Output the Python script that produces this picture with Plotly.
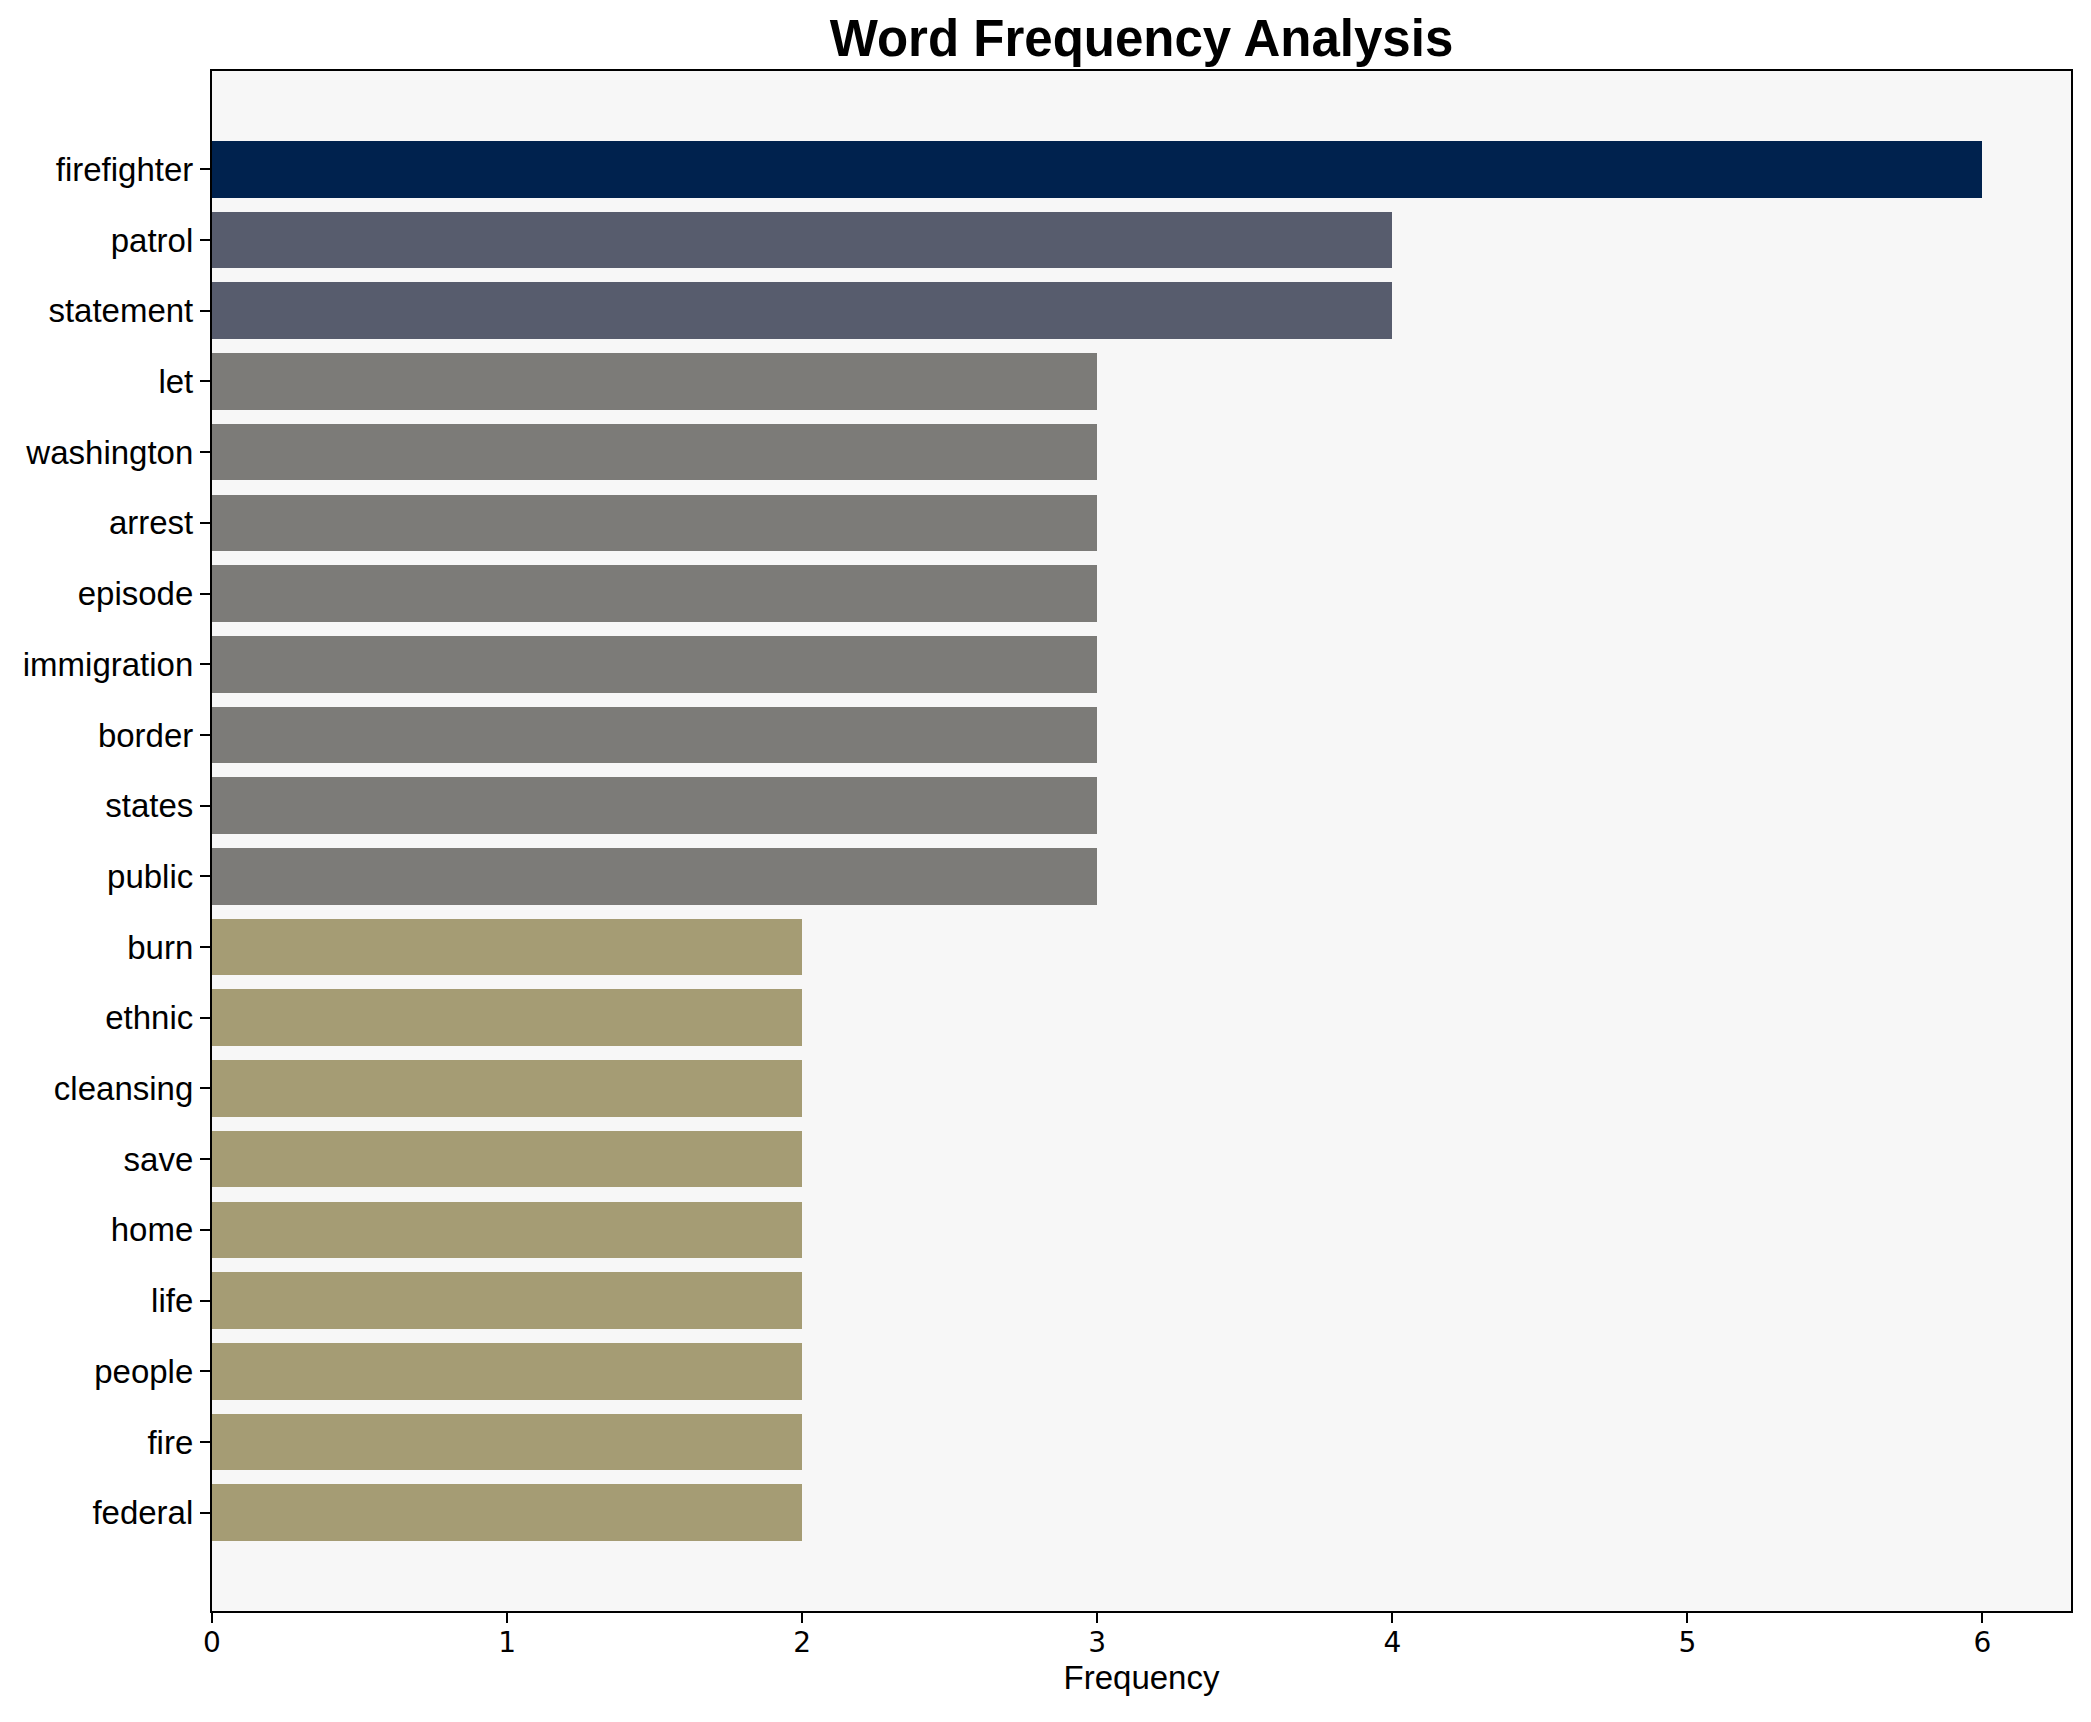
import plotly.graph_objects as go

words = ["firefighter", "patrol", "statement", "let", "washington", "arrest",
         "episode", "immigration", "border", "states", "public", "burn",
         "ethnic", "cleansing", "save", "home", "life", "people", "fire", "federal"]
freqs = [6, 4, 4, 3, 3, 3, 3, 3, 3, 3, 3, 2, 2, 2, 2, 2, 2, 2, 2, 2]
color_by_freq = {6: "#00224E", 4: "#575C6D", 3: "#7C7B78", 2: "#A59C74"}
x_ticks = [0, 1, 2, 3, 4, 5, 6]

# page has an 8px body margin; compensate so the plot lands where the reference has it
OFF = 8
W, H = 2091 - OFF, 1722 - OFF
L, R, T, B = 212 - OFF, 20, 71 - OFF, 111
FONT = "Liberation Sans, Arial, sans-serif"
DJ = "DejaVu Sans, sans-serif"

fig = go.Figure()
fig.add_trace(go.Bar(
    x=freqs, y=list(range(len(words))), orientation="h", width=0.8,
    marker=dict(color=[color_by_freq[f] for f in freqs], line=dict(width=0)),
    hoverinfo="x+text", text=words, textposition="none",
))

fig.update_layout(
    width=W, height=H,
    margin=dict(l=L, r=R, t=T, b=B, autoexpand=False),
    paper_bgcolor="white", plot_bgcolor="#F7F7F7",
    font=dict(family=FONT, size=33, color="black"),
    showlegend=False, bargap=0,
    title=dict(text="<b>Word Frequency Analysis</b>", x=0.5, xref="paper",
               xanchor="center", y=1 - 30.5 / H, yref="container", yanchor="middle",
               font=dict(family=FONT, size=51, color="black")),
)
fig.update_xaxes(
    range=[0, 6.3], tickvals=x_ticks, ticktext=[str(v) for v in x_ticks],
    showgrid=False, zeroline=False, showline=True, linecolor="black", linewidth=2.2,
    mirror=True, ticks="outside", ticklen=10, tickwidth=2.2, tickcolor="black",
    tickfont=dict(size=28, family=DJ), automargin=False, ticklabelstandoff=-5,
    title=dict(text="Frequency", font=dict(size=33, family=FONT), standoff=8),
)
fig.update_yaxes(
    range=[len(words) - 1 + 1.39, -1.39], tickvals=list(range(len(words))), ticktext=words,
    showgrid=False, zeroline=False, showline=True, linecolor="black", linewidth=2.2,
    mirror=True, ticks="outside", ticklen=10, tickwidth=2.2, tickcolor="black",
    tickfont=dict(size=33, family=FONT), automargin=False,
)

fig.write_html("out.html")
